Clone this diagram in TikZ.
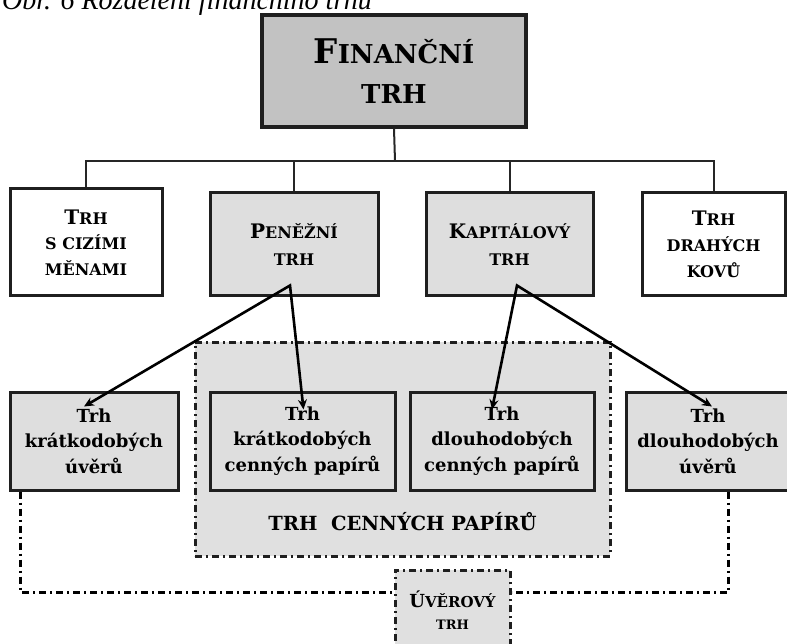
\documentclass[tikz,border=0pt]{standalone}
\usepackage{fontspec}
\setmainfont{DejaVu Serif}
\newfontfamily\captionfont{Liberation Serif}
\usetikzlibrary{arrows.meta}

\newcommand{\hd}[2]{{\fontsize{#1}{#1}\selectfont #2}}

\tikzset{
  box/.style={draw=black!88, line width=3pt, fill=black!13, align=center, inner sep=0pt, font=\bfseries},
  whitebox/.style={box, fill=white},
  topbox/.style={box, fill=black!24, line width=3.4pt},
  dashdot/.style={line width=3pt, dash pattern=on 7pt off 4pt on 2pt off 4pt},
  branch/.style={draw=black!85, line width=2pt},
  split/.style={line width=2.6pt, line join=miter, {Stealth[length=10pt,width=9pt]}-{Stealth[length=10pt,width=9pt]}}
}

\begin{document}
\begin{tikzpicture}[x=1pt,y=-1pt]
\useasboundingbox (0,0) rectangle (787,644);

% Caption
\node (caption) [anchor=base west, inner sep=0pt, font=\captionfont\itshape\fontsize{28}{28}\selectfont] at (2,10) {Obr. 6 Rozdělení finančního trhu};

% Top box
\node (financni) [topbox, minimum width=264, minimum height=112, font=\bfseries\fontsize{26}{40}\selectfont] at (394,71)
  {\hd{34}{F}\hd{26}{INANČNÍ}\\\hd{26}{TRH}};

% Second row
\node (cizi) [whitebox, minimum width=152, minimum height=107, font=\bfseries\fontsize{16}{25.5}\selectfont] at (86,242.5)
  {\hd{20}{T}\hd{16}{RH}\\\hd{16}{S CIZÍMI}\\\hd{16}{MĚNAMI}};
\node (penezni) [box, minimum width=168, minimum height=103, font=\bfseries\fontsize{16}{27}\selectfont] at (294,244.5)
  {\hd{20}{P}\hd{16}{ENĚŽNÍ}\\\hd{16}{TRH}};
\node (kapital) [box, minimum width=167, minimum height=103, font=\bfseries\fontsize{16}{27}\selectfont] at (509.5,244.5)
  {\hd{20}{K}\hd{16}{APITÁLOVÝ}\\\hd{16}{TRH}};
\node (kovy) [whitebox, minimum width=143, minimum height=103, font=\bfseries\fontsize{16}{26}\selectfont] at (713.5,244.5)
  {\hd{20}{T}\hd{16}{RH}\\\hd{16}{DRAHÝCH}\\\hd{16}{KOVŮ}};

% Tree lines
\coordinate (bar) at (395,161);
\draw[branch] (financni.south) -- (bar);
\draw[branch] (cizi.north) -- (cizi.north |- bar) -- (kovy.north |- bar) -- (kovy.north);
\draw[branch] (penezni.north) -- (penezni.north |- bar);
\draw[branch] (kapital.north) -- (kapital.north |- bar);

% Securities market area
\node (cenne) [draw=black!88, dashdot, fill=black!12, minimum width=415, minimum height=214, inner sep=0pt] at (402.5,449) {};
\node (cennelabel) [font=\bfseries\fontsize{19.5}{19.5}\selectfont] at (402.5,522) {TRH\ \ CENNÝCH PAPÍRŮ};

% Third row
\tikzset{lowbox/.style={box, minimum height=98, font=\bfseries\fontsize{18}{25.5}\selectfont}}
\node (kratuv) [lowbox, minimum width=168] at (94,441) {Trh\\krátkodobých\\úvěrů};
\node (kratcp) [lowbox, minimum width=185] at (302.5,441) {Trh\\krátkodobých\\cenných papírů};
\node (dlouhcp) [lowbox, minimum width=184] at (502,441) {Trh\\dlouhodobých\\cenných papírů};
\node (dlouhuv) [lowbox, minimum width=164] at (708,441) {Trh\\dlouhodobých\\úvěrů};

% Arrows
\coordinate (papex) at ([shift={(-4,-12)}]penezni.south);
\coordinate (kapex) at ([shift={(7.5,-12)}]kapital.south);
\draw[split] ([shift={(-10,16)}]kratuv.north) -- (papex) -- ([shift={(1,19)}]kratcp.north);
\draw[split] ([shift={(-10,19)}]dlouhcp.north) -- (kapex) -- ([shift={(4,16)}]dlouhuv.north);

% Credit market
\node (uver) [draw=black!88, dashdot, fill=black!12, minimum width=115, minimum height=80, inner sep=0pt, align=center, font=\bfseries\fontsize{13}{22}\selectfont] at (452.5,610)
  {\hd{18}{Ú}\hd{15}{VĚROVÝ}\\\hd{13}{TRH}};
\draw[dashdot] ([xshift=12]kratuv.south west) |- ([yshift=18]uver.west);
\draw[dashdot] ([xshift=20]dlouhuv.south) |- ([yshift=18]uver.east);

\end{tikzpicture}
\end{document}
